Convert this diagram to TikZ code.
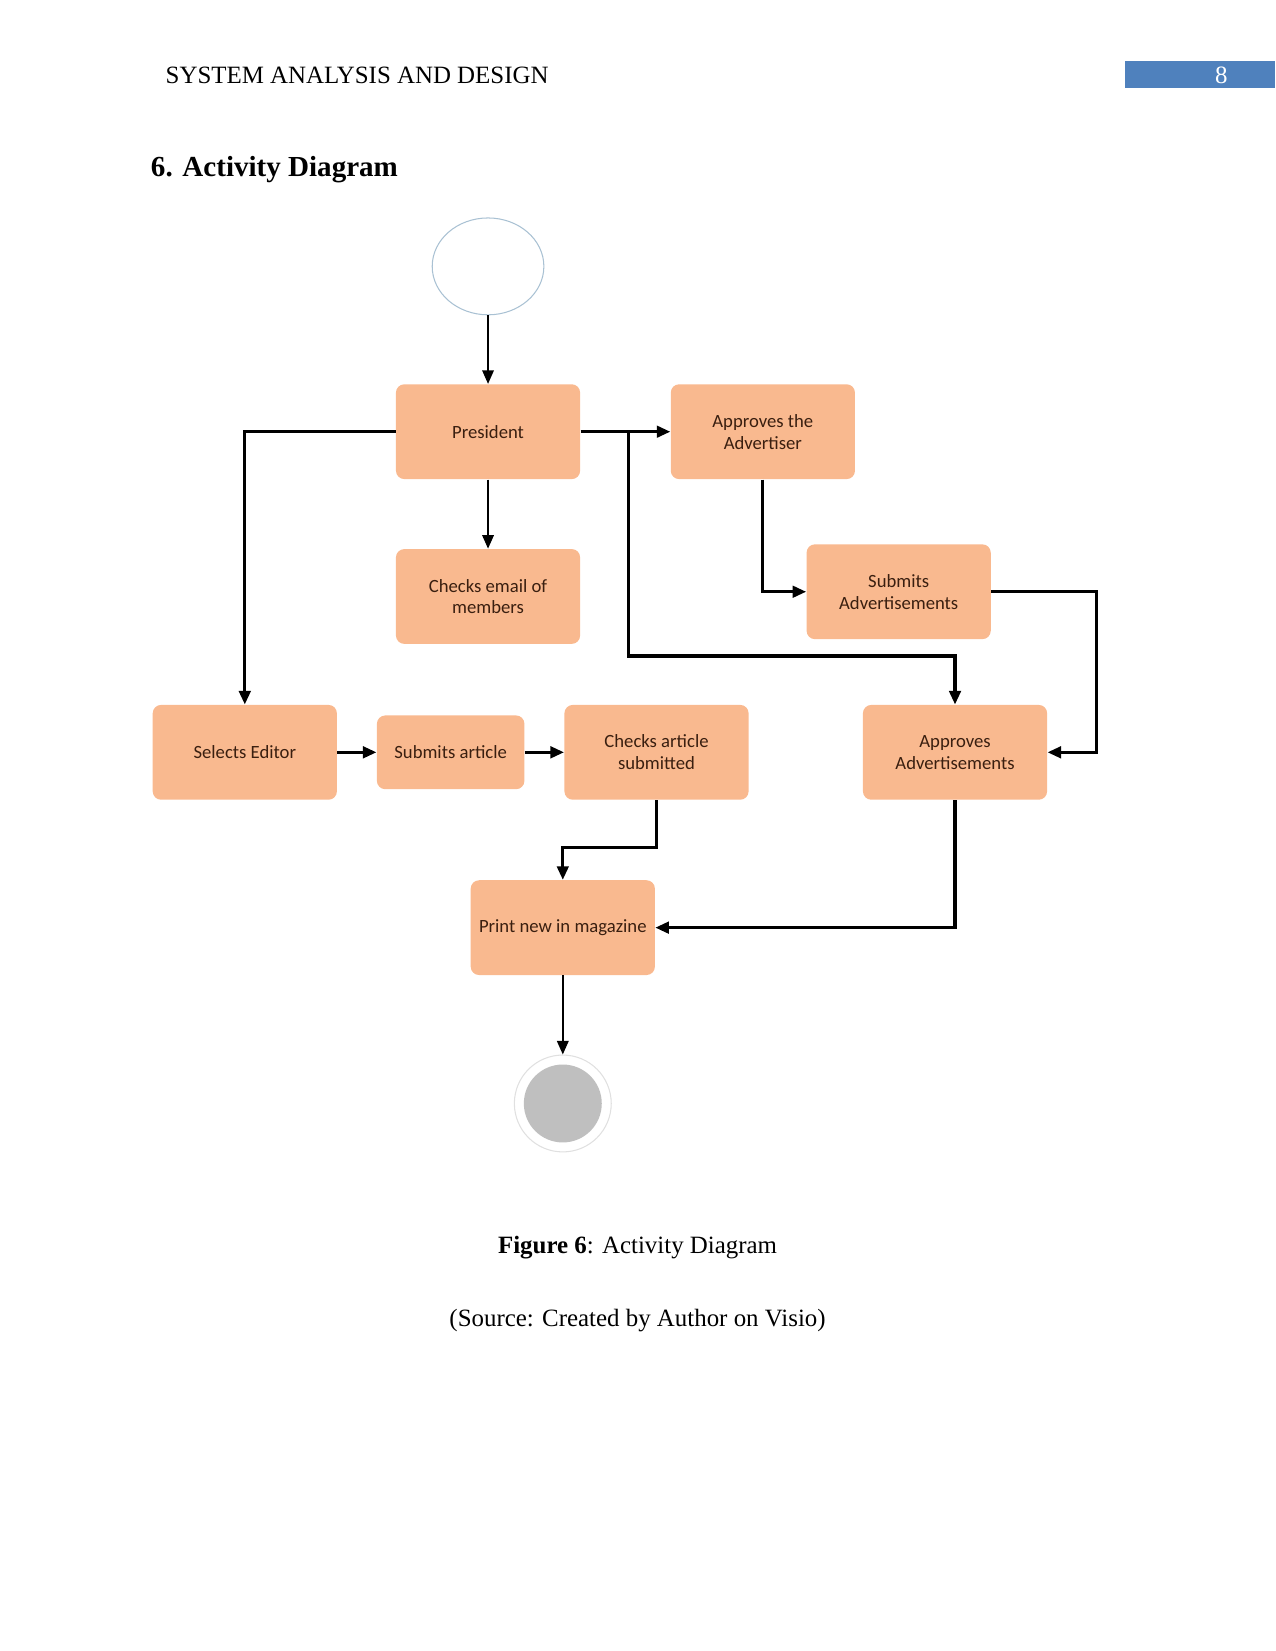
\documentclass[tikz,border=0pt]{standalone}
\usepackage{fontspec}
\setmainfont{Liberation Serif}
\newfontfamily\boxfont{Carlito}
\usetikzlibrary{arrows.meta,shapes.geometric}
\definecolor{boxfill}{HTML}{F9B98F}
\definecolor{boxtext}{HTML}{3A1F10}
\definecolor{hdrblue}{HTML}{4F81BD}
\definecolor{startline}{HTML}{A9C1D3}
\definecolor{endgray}{HTML}{BFBFBF}
\tikzset{
  act/.style={rectangle, rounded corners=4bp, fill=boxfill, draw=none,
    minimum width=88.4bp, minimum height=45.5bp, align=center, inner sep=2bp,
    text=boxtext, font=\boxfont\fontsize{9}{10.5}\selectfont},
  smallact/.style={act, minimum width=70.8bp, minimum height=35.4bp},
  arr/.style={line width=1.5bp, -{Triangle[length=6.5bp,width=5.5bp]}},
  tarr/.style={line width=0.9bp, -{Triangle[length=6.5bp,width=5.5bp]}},
}
\begin{document}
\begin{tikzpicture}[x=0.5054bp,y=-0.5054bp]
\useasboundingbox (0,0) rectangle (1211,1568);
% header
\node[anchor=base west, inner sep=0pt, font=\fontsize{12}{14}\selectfont] (hdr) at (157,79) {SYSTEM ANALYSIS AND DESIGN};
\fill[hdrblue] (1068,58) rectangle (1211,84);
\node[anchor=base, inner sep=0pt, text=white, font=\fontsize{12}{14}\selectfont] (pg) at (1160,79) {8};
\node[anchor=base west, inner sep=0pt, font=\bfseries\fontsize{14}{16}\selectfont] (ttl) at (143,168) {6. Activity Diagram};
% nodes
\node[ellipse, draw=startline, line width=0.5bp, fill=white, minimum width=53.6bp, minimum height=46.5bp, inner sep=0pt] (start) at (463.5,253) {};
\node[act] (pres) at (463.5,410) {President};
\node[act] (appadv) at (724.5,410) {Approves the\\Advertiser};
\node[act] (chkmail) at (463.5,566.5) {Checks email of\\members};
\node[act] (subads) at (853.5,562) {Submits\\Advertisements};
\node[act] (sel) at (232.5,714.5) {Selects Editor};
\node[smallact] (suba) at (428,714.5) {Submits article};
\node[act] (chka) at (623.5,714.5) {Checks article\\submitted};
\node[act] (appads) at (907,714.5) {Approves\\Advertisements};
\node[act] (print) at (534.5,881) {Print new in magazine};
\node[circle, draw=black!12, line width=0.5bp, fill=white, minimum size=46.5bp, inner sep=0pt] (end) at (534.5,1048) {};
\node[circle, fill=endgray, minimum size=37.4bp, inner sep=0pt] (endin) at (534.5,1048) {};
% connectors
\coordinate (br) at (597,410);
\coordinate (br1) at (597,623);
\coordinate (r1) at (1041,562);
\coordinate (d1) at (623.5,805);
\draw[tarr] (start) -- (pres);
\draw[tarr] (pres) -- (chkmail);
\draw[arr] (pres.west) -| (sel.north);
\draw[arr] (pres.east) -- (appadv.west);
\draw[arr] (br) -- (br1) -| (appads.north);
\draw[arr] (appadv.south) |- (subads.west);
\draw[arr] (subads.east) -- (r1) |- (appads.east);
\draw[arr] (sel) -- (suba);
\draw[arr] (suba) -- (chka);
\draw[arr] (chka.south) -- (d1) -| (print.north);
\draw[arr] (appads.south) |- (print.east);
\draw[tarr] (print) -- (end);
% caption
\node[anchor=base, inner sep=0pt, font=\fontsize{12}{14}\selectfont] (cap) at (605.5,1190) {\textbf{Figure 6}: Activity Diagram};
\node[anchor=base, inner sep=0pt, font=\fontsize{12}{14}\selectfont] (src) at (605.5,1260) {(Source: Created by Author on Visio)};
\end{tikzpicture}
\end{document}
